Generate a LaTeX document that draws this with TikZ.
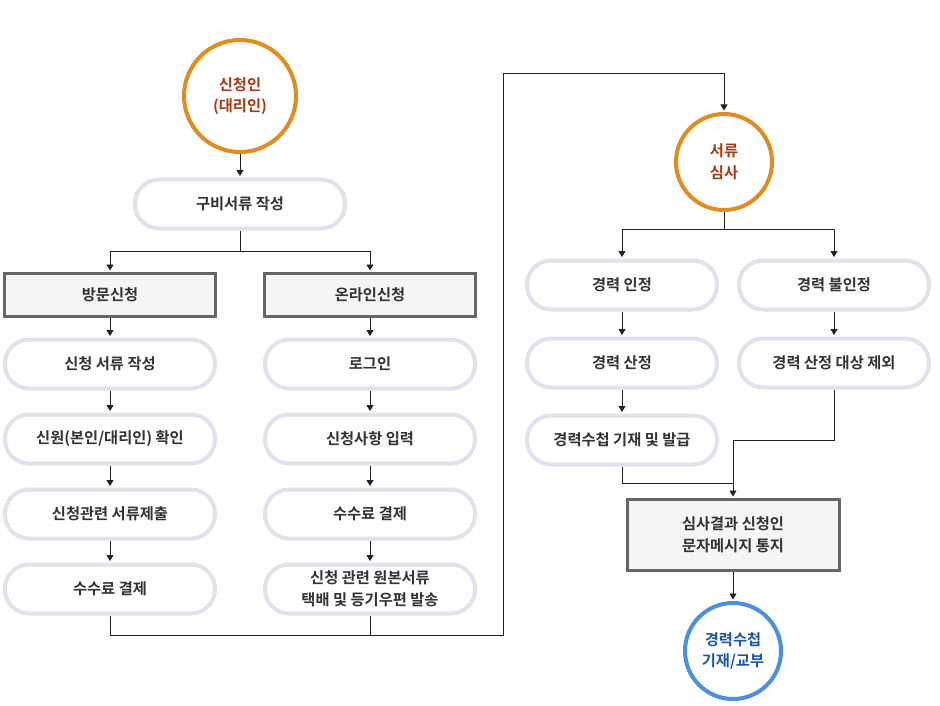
\documentclass[tikz,border=0pt]{standalone}
\usepackage{fontspec}
\newfontfamily\kr{Noto Sans CJK KR}[BoldFont={Noto Sans CJK KR Bold}]
\usetikzlibrary{arrows.meta}
\definecolor{orangec}{HTML}{E08C1E}
\definecolor{redtxt}{HTML}{A63A12}
\definecolor{bluec}{HTML}{4A90DE}
\definecolor{bluetxt}{HTML}{1B56A8}
\definecolor{pill}{HTML}{DDE2EC}
\definecolor{boxb}{HTML}{666666}
\definecolor{boxf}{HTML}{F5F5F5}
\definecolor{txt}{HTML}{333333}
\definecolor{linec}{HTML}{222222}
\begin{document}
\begin{tikzpicture}[x=1pt,y=-1pt,
  every node/.style={font=\kr\bfseries\fontsize{15.3}{21.5}\selectfont, align=center, inner sep=0pt},
  pillbox/.style={draw=pill, line width=4pt, fill=white, rounded corners=24pt, minimum width=210pt, minimum height=49pt, text=txt},
  pillnarrow/.style={pillbox, minimum width=190pt},
  greybox/.style={draw=boxb, line width=3pt, fill=boxf, minimum width=211pt, minimum height=43pt, text=txt},
  startc/.style={circle, draw=orangec, line width=4pt, fill=white, text=redtxt},
  endc/.style={circle, draw=bluec, line width=4pt, fill=white, text=bluetxt, minimum size=96pt},
  conn/.style={draw=linec, line width=0.9pt},
  arr/.style={conn, -{Triangle[length=6pt,width=7pt]}, shorten >=1.5pt}
]
\useasboundingbox (0,0) rectangle (940,706);
% nodes
\node[startc, minimum size=112pt] (c1) at (240,96) {신청인\\(대리인)};
\node[pillbox] (prep) at (240,204) {구비서류 작성};
\node[greybox] (visit) at (110,295) {방문신청};
\node[greybox] (online) at (370,295) {온라인신청};
\node[pillbox] (v1) at (110,364) {신청 서류 작성};
\node[pillbox] (v2) at (110,439) {신원(본인/대리인) 확인};
\node[pillbox] (v3) at (110,514) {신청관련 서류제출};
\node[pillbox] (v4) at (110,589) {수수료 결제};
\node[pillbox] (o1) at (370,364) {로그인};
\node[pillbox] (o2) at (370,439) {신청사항 입력};
\node[pillbox] (o3) at (370,514) {수수료 결제};
\node[pillbox] (o4) at (370,589) {신청 관련 원본서류\\택배 및 등기우편 발송};
\node[startc, minimum size=96pt] (c2) at (724,162) {서류\\심사};
\node[pillnarrow] (r1) at (622,285) {경력 인정};
\node[pillnarrow] (r2) at (622,363) {경력 산정};
\node[pillnarrow] (r3) at (622,440) {경력수첩 기재 및 발급};
\node[pillnarrow] (n1) at (834,285) {경력 불인정};
\node[pillnarrow] (n2) at (834,363) {경력 산정 대상 제외};
\node[greybox, minimum width=212pt, minimum height=71pt] (res) at (733,535) {심사결과 신청인\\문자메시지 통지};
\node[endc] (c3) at (733,651) {경력수첩\\기재/교부};
% coordinates
\coordinate (s1) at (240,251);
\coordinate (j1) at (110,635);
\coordinate (j2) at (370,635);
\coordinate (j3) at (503,635);
\coordinate (j4) at (503,73);
\coordinate (j5) at (724,73);
\coordinate (s2) at (724,229);
\coordinate (m1) at (622,483);
\coordinate (m2) at (733,483);
\coordinate (m3) at (834,440);
\coordinate (m4) at (733,440);
% connectors
\draw[arr] (c1) -- (prep);
\draw[conn] (prep) -- (s1);
\draw[arr] (s1) -| (visit);
\draw[arr] (s1) -| (online);
\draw[arr] (visit) -- (v1);
\draw[arr] (v1) -- (v2);
\draw[arr] (v2) -- (v3);
\draw[arr] (v3) -- (v4);
\draw[arr] (online) -- (o1);
\draw[arr] (o1) -- (o2);
\draw[arr] (o2) -- (o3);
\draw[arr] (o3) -- (o4);
\draw[conn] (o4) -- (j2);
\draw[arr] (v4) -- (j1) -- (j3) -- (j4) -- (j5) -- (c2);
\draw[conn] (c2) -- (s2);
\draw[arr] (s2) -| (r1);
\draw[arr] (s2) -| (n1);
\draw[arr] (r1) -- (r2);
\draw[arr] (r2) -- (r3);
\draw[arr] (n1) -- (n2);
\draw[conn] (r3) -- (m1) -- (m2);
\draw[arr] (n2) -- (m3) -- (m4) -- (res);
\draw[arr] (res) -- (c3);
\end{tikzpicture}
\end{document}
